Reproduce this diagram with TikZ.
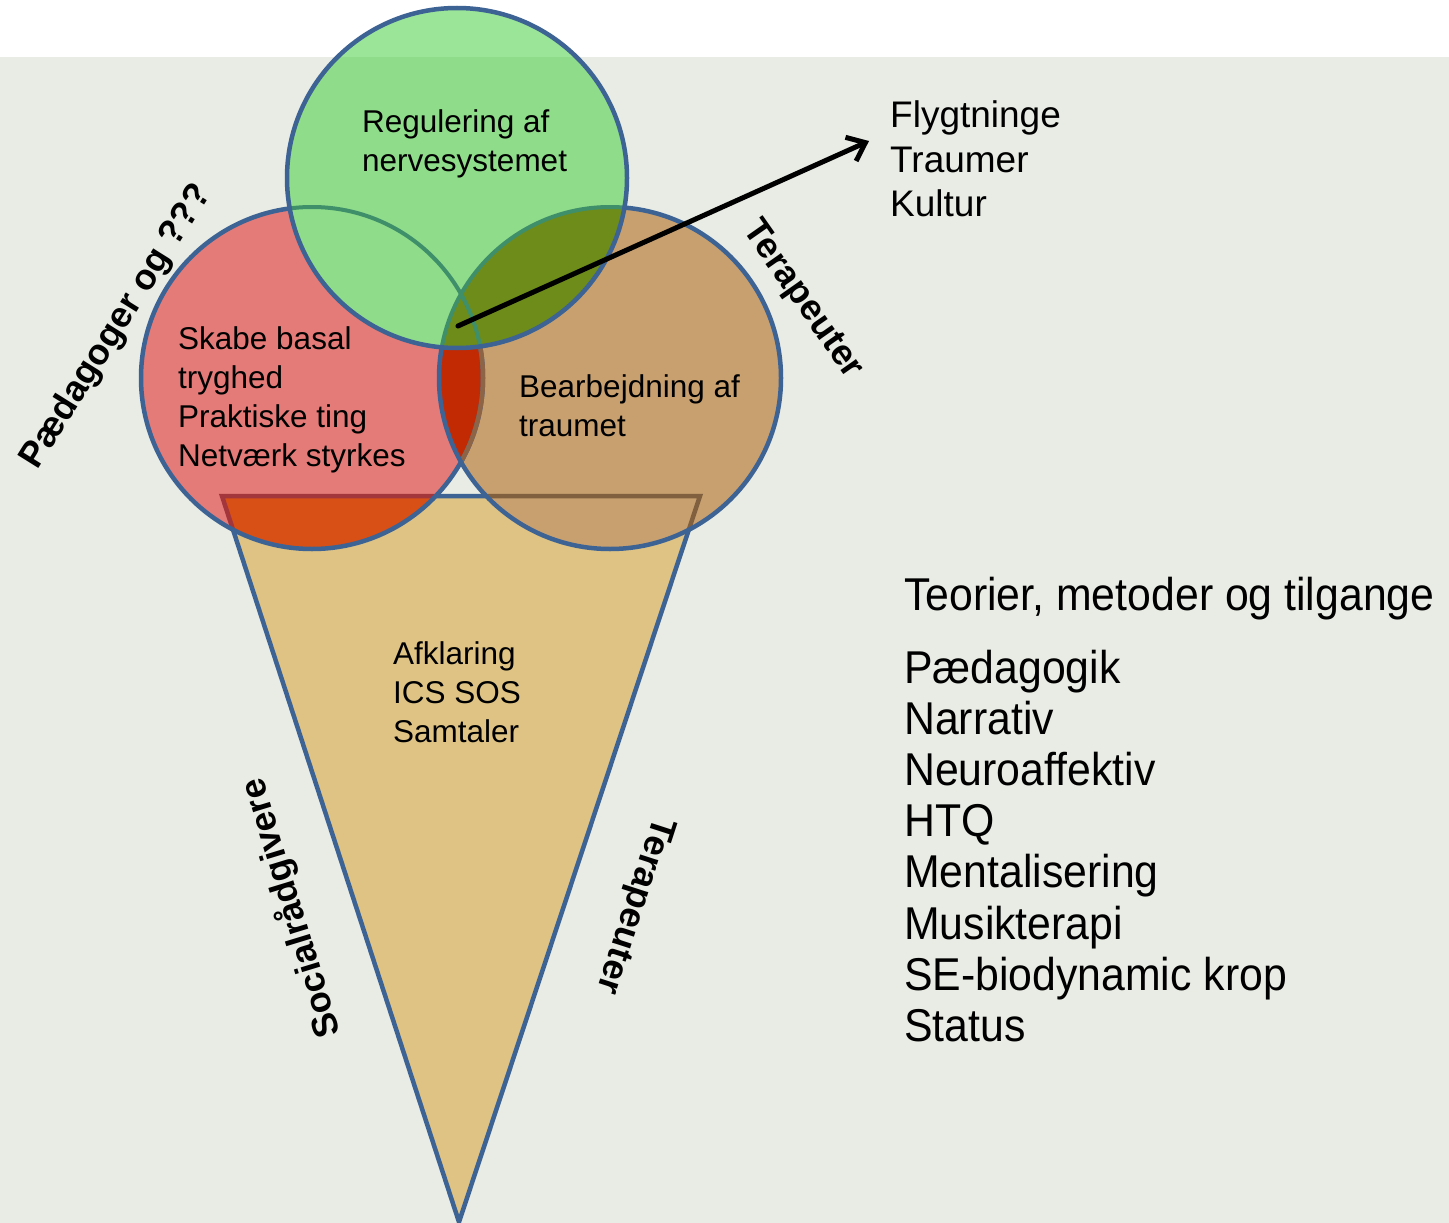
\documentclass[tikz,border=0pt]{standalone}
\usepackage{fontspec}
\setmainfont{Liberation Sans}
\newfontfamily\listfont[FakeStretch=0.93]{Liberation Sans}
\usetikzlibrary{arrows.meta}
\definecolor{bgc}{HTML}{E8ECE4}
\definecolor{greenc}{HTML}{8FDC8A}
\definecolor{greentop}{HTML}{9AE598}
\definecolor{redc}{HTML}{E47B78}
\definecolor{brownc}{HTML}{C8A070}
\definecolor{olivec}{HTML}{6E8C1A}
\definecolor{darkredc}{HTML}{C22A04}
\definecolor{orangec}{HTML}{D95016}
\definecolor{conec}{HTML}{DEC384}
\definecolor{bluec}{HTML}{3D6394}
\definecolor{tealc}{HTML}{3E8F6A}
\definecolor{shadowc}{HTML}{8E6446}
\definecolor{conered}{HTML}{A3363C}
\definecolor{conebrown}{HTML}{80603F}
\tikzset{
  outl/.style={draw=bluec, line width=4.5pt},
  innertext/.style={font=\fontsize{31.5}{38.8}\selectfont, align=left, anchor=west, inner sep=0pt},
  sidelabel/.style={font=\bfseries\fontsize{36}{42}\selectfont, inner sep=0pt},
  bigtext/.style={font=\listfont\fontsize{46}{51.1}\selectfont, align=left, inner sep=0pt},
}
\begin{document}
\begin{tikzpicture}[x=1pt,y=-1pt]
\useasboundingbox (0,0) rectangle (1449,1223);
\fill[white] (0,0) rectangle (1449,57);
\fill[bgc] (0,57) rectangle (1449,1223);
\coordinate (G) at (457,178);
\coordinate (R) at (312,378);
\coordinate (B) at (610,378);
\coordinate (c1) at (222,496);
\coordinate (c2) at (700,496);
\coordinate (tip) at (459,1222);
% cone
\fill[conec] (c1) -- (c2) -- (tip) -- cycle;
\draw[outl, line join=round] (c1) -- (c2) -- (tip) -- cycle;
% red and brown scoops
\fill[redc] (R) circle[radius=171pt];
\fill[brownc] (B) circle[radius=171pt];
\begin{scope}
  \clip (R) circle[radius=171pt];
  \fill[darkredc] (B) circle[radius=171pt];
  \fill[orangec] (c1) -- (c2) -- (tip) -- cycle;
  \draw[conered, line width=4.5pt] (c1) -- (c2) -- (tip) -- cycle;
\end{scope}
\begin{scope}
  \clip (B) circle[radius=171pt];
  \draw[conebrown, line width=4.5pt] (c1) -- (c2) -- (tip) -- cycle;
\end{scope}
\draw[outl] (R) circle[radius=171pt];
\begin{scope}
  \clip (B) circle[radius=171pt];
  \draw[shadowc, line width=4.5pt] (R) circle[radius=171pt];
\end{scope}
\draw[outl] (B) circle[radius=171pt];
% green scoop
\fill[greenc] (G) circle[radius=170pt];
\begin{scope}
  \clip (G) circle[radius=170pt];
  \fill[greentop] (0,0) rectangle (1449,57);
  \fill[olivec] (B) circle[radius=171pt];
  \draw[tealc, line width=4pt] (R) circle[radius=171pt];
  \draw[tealc, line width=4pt] (B) circle[radius=171pt];
\end{scope}
\draw[outl] (G) circle[radius=170pt];
% texts
\node[innertext] (reg) at (362,144) {Regulering af\\nervesystemet};
\node[innertext] (skabe) at (178,400) {Skabe basal\\tryghed\\Praktiske ting\\Netværk styrkes};
\node[innertext] (bear) at (519,406) {Bearbejdning af\\traumet};
\node[innertext] (afk) at (393,692) {Afklaring\\ICS SOS\\Samtaler};
\node[font=\fontsize{37}{44.5}\selectfont, align=left, anchor=west, inner sep=0pt] (fly) at (890,159) {Flygtninge\\Traumer\\Kultur};
\node[bigtext, anchor=base west] (teori) at (904,610) {Teorier, metoder og tilgange};
\node[bigtext, anchor=north west] (list) at (904,650) {Pædagogik\\Narrativ\\Neuroaffektiv\\HTQ\\Mentalisering\\Musikterapi\\SE-biodynamic krop\\Status};
\node[sidelabel, rotate=58] (ped) at (117,327) {Pædagoger og ???};
\node[sidelabel, rotate=-55] (ter1) at (802,300) {Terapeuter};
\node[sidelabel, rotate=107] (soc) at (291,908) {Socialrådgivere};
\node[sidelabel, rotate=-108] (ter2) at (634,905) {Terapeuter};
% arrow
\coordinate (arrowstart) at (458,326);
\coordinate (arrowend) at (869,141);
\draw[line width=5pt, line cap=round, -{Straight Barb[length=16pt,width=26pt]}] (arrowstart) -- (arrowend);
\end{tikzpicture}
\end{document}
